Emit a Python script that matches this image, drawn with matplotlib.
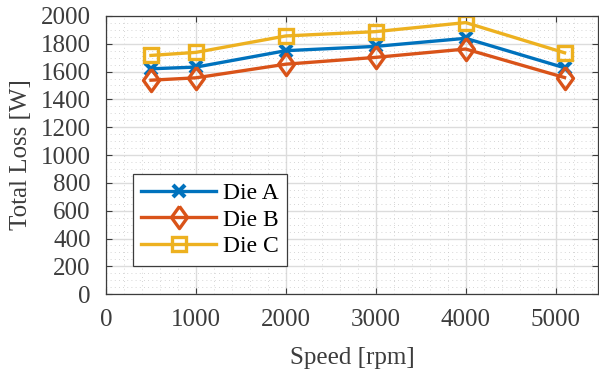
import numpy as np
import matplotlib
matplotlib.use("Agg")
import matplotlib.pyplot as plt
from matplotlib.ticker import MultipleLocator

# --- data ---
speed = [500, 1000, 2000, 3000, 4000, 5100]
die_a = [1620, 1632, 1750, 1781, 1839, 1627]
die_b = [1538, 1555, 1653, 1702, 1762, 1557]
die_c = [1716, 1738, 1856, 1887, 1952, 1735]
labels = ["Die A", "Die B", "Die C"]

plt.rcParams['font.family'] = ['Liberation Serif', 'DejaVu Serif']

fig = plt.figure(figsize=(5.99, 3.70), dpi=100)
ax = fig.add_axes([0.177, 0.205, 0.821, 0.752])

# MATLAB-style tall diamond
diamond = [(0, 1), (0.72, 0), (0, -1), (-0.72, 0), (0, 1)]

txt = '#3c3c3c'
ax.plot(speed, die_a, color='#0072BD', lw=2.4, marker='x', ms=8, mew=3, label=labels[0])
ax.plot(speed, die_b, color='#D95319', lw=2.4, marker=diamond, ms=16, mew=2.4,
        mfc='none', label=labels[1])
ax.plot(speed, die_c, color='#EDB120', lw=2.4, marker='s', ms=9.5, mew=2.4,
        mfc='none', label=labels[2])

ax.set_xlim(0, 5470)
ax.set_ylim(0, 2000)
ax.xaxis.set_major_locator(MultipleLocator(1000))
ax.xaxis.set_minor_locator(MultipleLocator(200))
ax.yaxis.set_major_locator(MultipleLocator(200))
ax.yaxis.set_minor_locator(MultipleLocator(50))

ax.grid(which='major', color='#dcdcdc', lw=1.0, ls='-')
ax.grid(which='minor', color='#c8c8c8', lw=0.6, ls=(0, (1, 4)))
ax.set_axisbelow(True)

ax.tick_params(which='both', direction='in', top=True, right=True, colors=txt,
               labelsize=18)
ax.tick_params(which='major', length=4, width=0.8)
ax.tick_params(axis='x', which='major', pad=11)
ax.tick_params(axis='y', which='major', pad=11)
ax.tick_params(which='minor', length=0)
for s in ax.spines.values():
    s.set_color(txt)
    s.set_linewidth(0.9)

ax.set_xlabel("Speed [rpm]", fontsize=18, color=txt, labelpad=11)
ax.set_ylabel("Total Loss [W]", fontsize=18, color=txt, labelpad=6)

leg = ax.legend(loc='lower left', bbox_to_anchor=(0.03, 0.06), fontsize=17,
                fancybox=False, edgecolor=txt, framealpha=1,
                handlelength=3.2, borderpad=0.35, labelspacing=0.22,
                handletextpad=0.3)
leg.get_frame().set_linewidth(0.9)

fig.savefig("out.png", dpi=100)
